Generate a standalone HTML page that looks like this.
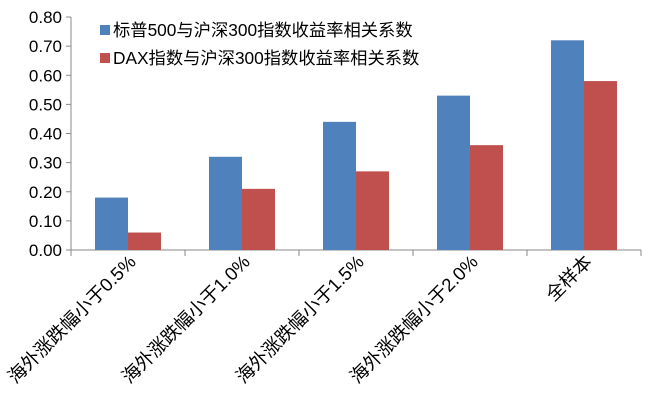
<!DOCTYPE html>
<html><head><meta charset="utf-8"><style>body{margin:0;background:#fff}svg{display:block}</style></head><body>
<svg id="c" width="648" height="408" font-family="'Liberation Sans','Noto Sans CJK SC',sans-serif"></svg>
<script>
const categories=["海外涨跌幅小于0.5%","海外涨跌幅小于1.0%","海外涨跌幅小于1.5%","海外涨跌幅小于2.0%","全样本"];
const sp500=[0.18,0.32,0.44,0.53,0.72];
const dax=[0.06,0.21,0.27,0.36,0.58];
const yTicks=[0,0.1,0.2,0.3,0.4,0.5,0.6,0.7,0.8];
const seriesNames=["标普500与沪深300指数收益率相关系数","DAX指数与沪深300指数收益率相关系数"];
const svg=document.getElementById('c');const NS='http://www.w3.org/2000/svg';
const x0=71,x1=641,y0=250,y1=17;
const y=v=>y0-(v/0.8)*(y0-y1);
const cw=(x1-x0)/categories.length;
const x=i=>x0+cw*i;
function mk(t,a,txt){const e=document.createElementNS(NS,t);for(const k in a)e.setAttribute(k,a[k]);if(txt!=null)e.textContent=txt;svg.appendChild(e);return e;}
let e;
e=mk('line',{x1:x0,y1:y1,x2:x0,y2:y0,stroke:'#888'});


e=mk('line',{x1:x0,y1:y0,x2:x1,y2:y0,stroke:'#888'});


yTicks.forEach(v=>{
 e=mk('line',{x1:x0-5,y1:y(v),x2:x0,y2:y(v),stroke:'#888'});
 
 
 e=mk('text',{x:x0-9,y:y(v)+6,'text-anchor':'end','font-size':17,fill:'#000'},v.toFixed(2));
 
 
});
for(let i=0;i<=categories.length;i++){
 e=mk('line',{x1:x(i),y1:y0,x2:x(i),y2:y0+6,stroke:'#888'});
 
 
}
const bw=33;
categories.forEach((c,i)=>{
 const cx=x(i)+cw/2;
 e=mk('rect',{x:cx-bw,y:y(sp500[i]),width:bw,height:y0-y(sp500[i]),fill:'#4f81bd'});
 
 
 e=mk('rect',{x:cx,y:y(dax[i]),width:bw,height:y0-y(dax[i]),fill:'#c0504d'});
 
 
 e=mk('text',{x:cx+9,y:y0+13,'text-anchor':'end','font-size':18.5,fill:'#000',transform:`rotate(-45 ${cx+9} ${y0+13})`},c);
 
 
});
const cols=['#4f81bd','#c0504d'];
seriesNames.forEach((n,k)=>{
 const ly=30+k*28;
 e=mk('rect',{x:100,y:ly-5,width:10,height:10,fill:cols[k]});
 
 
 e=mk('text',{x:113,y:ly+6,'font-size':17.3,fill:'#000'},n);
 
 
});
</script>
</body></html>
